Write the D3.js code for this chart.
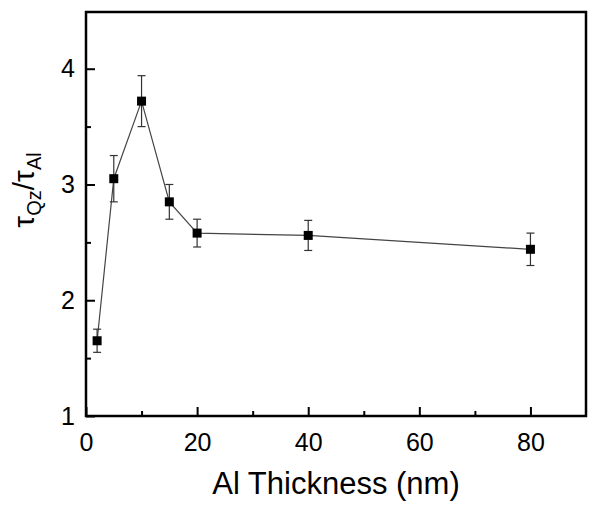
<!DOCTYPE html>
<html>
<head>
<meta charset="utf-8">
<script src="https://cdn.jsdelivr.net/npm/d3@7"></script>
<style>
html,body{margin:0;padding:0;background:#fff;}
svg{display:block;}
text{font-family:"Liberation Sans",Arial,sans-serif;fill:#000;}
</style>
</head>
<body>
<svg id="chart" width="600" height="507"></svg>
<script>
const thickness = [2, 5, 10, 15, 20, 40, 80];
const ratio     = [1.65, 3.05, 3.72, 2.85, 2.58, 2.56, 2.44];
const errors    = [0.10, 0.20, 0.22, 0.15, 0.12, 0.13, 0.14];
const xTicks = [0, 20, 40, 60, 80];
const xMinor = [10, 30, 50, 70];
const yTicks = [1, 2, 3, 4];
const yMinor = [1.5, 2.5, 3.5];

const svg = d3.select("#chart");
const L = 86, R = 586, T = 12, B = 416;
const x = d3.scaleLinear().domain([0, 90]).range([L, R]);
const y = d3.scaleLinear().domain([1, 4.49]).range([B, T]);

// axes (ticks inward)
const gx = svg.append("g").attr("transform", `translate(0,${B})`)
  .call(d3.axisBottom(x).tickValues(xTicks).tickFormat(d3.format("d")).tickSizeInner(-9).tickSizeOuter(0).tickPadding(17));
const gxm = svg.append("g").attr("transform", `translate(0,${B})`)
  .call(d3.axisBottom(x).tickValues(xMinor).tickSizeInner(-5).tickSizeOuter(0).tickFormat(""));
const gy = svg.append("g").attr("transform", `translate(${L},0)`)
  .call(d3.axisLeft(y).tickValues(yTicks).tickFormat(d3.format("d")).tickSizeInner(-9).tickSizeOuter(0).tickPadding(14));
const gym = svg.append("g").attr("transform", `translate(${L},0)`)
  .call(d3.axisLeft(y).tickValues(yMinor).tickSizeInner(-5).tickSizeOuter(0).tickFormat(""));
[gx, gxm, gy, gym].forEach(g => {
  g.select(".domain").remove();
  g.selectAll(".tick line").attr("stroke", "#000").attr("stroke-width", 2);
  g.selectAll(".tick text").attr("font-size", 25).attr("fill", "#000");
});
gy.selectAll(".tick text").attr("dx", 3);

// frame
svg.append("rect").attr("x", L).attr("y", T).attr("width", R - L).attr("height", B - T)
  .attr("fill", "none").attr("stroke", "#000").attr("stroke-width", 2.5);

const data = thickness.map((t, i) => ({t, v: ratio[i], e: errors[i]}));

// line
svg.append("path").datum(data)
  .attr("fill", "none").attr("stroke", "#444").attr("stroke-width", 1.2)
  .attr("d", d3.line().x(d => x(d.t)).y(d => y(d.v)));

// error bars
const eb = svg.append("g").attr("stroke", "#333").attr("stroke-width", 1.2);
data.forEach(d => {
  const cx = x(d.t);
  eb.append("line").attr("x1", cx).attr("x2", cx).attr("y1", y(d.v + d.e)).attr("y2", y(d.v - d.e));
  eb.append("line").attr("x1", cx - 4).attr("x2", cx + 4).attr("y1", y(d.v + d.e)).attr("y2", y(d.v + d.e));
  eb.append("line").attr("x1", cx - 4).attr("x2", cx + 4).attr("y1", y(d.v - d.e)).attr("y2", y(d.v - d.e));
});

// markers
svg.append("g").selectAll("rect").data(data).join("rect")
  .attr("x", d => x(d.t) - 4.5).attr("y", d => y(d.v) - 4.5)
  .attr("width", 9).attr("height", 9).attr("fill", "#000");

// x title
svg.append("text").attr("x", 336).attr("y", 494).attr("text-anchor", "middle")
  .attr("font-size", 31).text("Al Thickness (nm)");

// y title
const yt = svg.append("text").attr("transform", `translate(34,190) rotate(-90)`).attr("text-anchor", "middle");
yt.append("tspan").attr("font-size", 30).text("τ");
yt.append("tspan").attr("font-size", 20).attr("dy", 7).text("Qz");
yt.append("tspan").attr("font-size", 30).attr("dy", -7).text("/");
yt.append("tspan").attr("font-size", 30).text("τ");
yt.append("tspan").attr("font-size", 20).attr("dy", 7).text("Al");
</script>
</body>
</html>
